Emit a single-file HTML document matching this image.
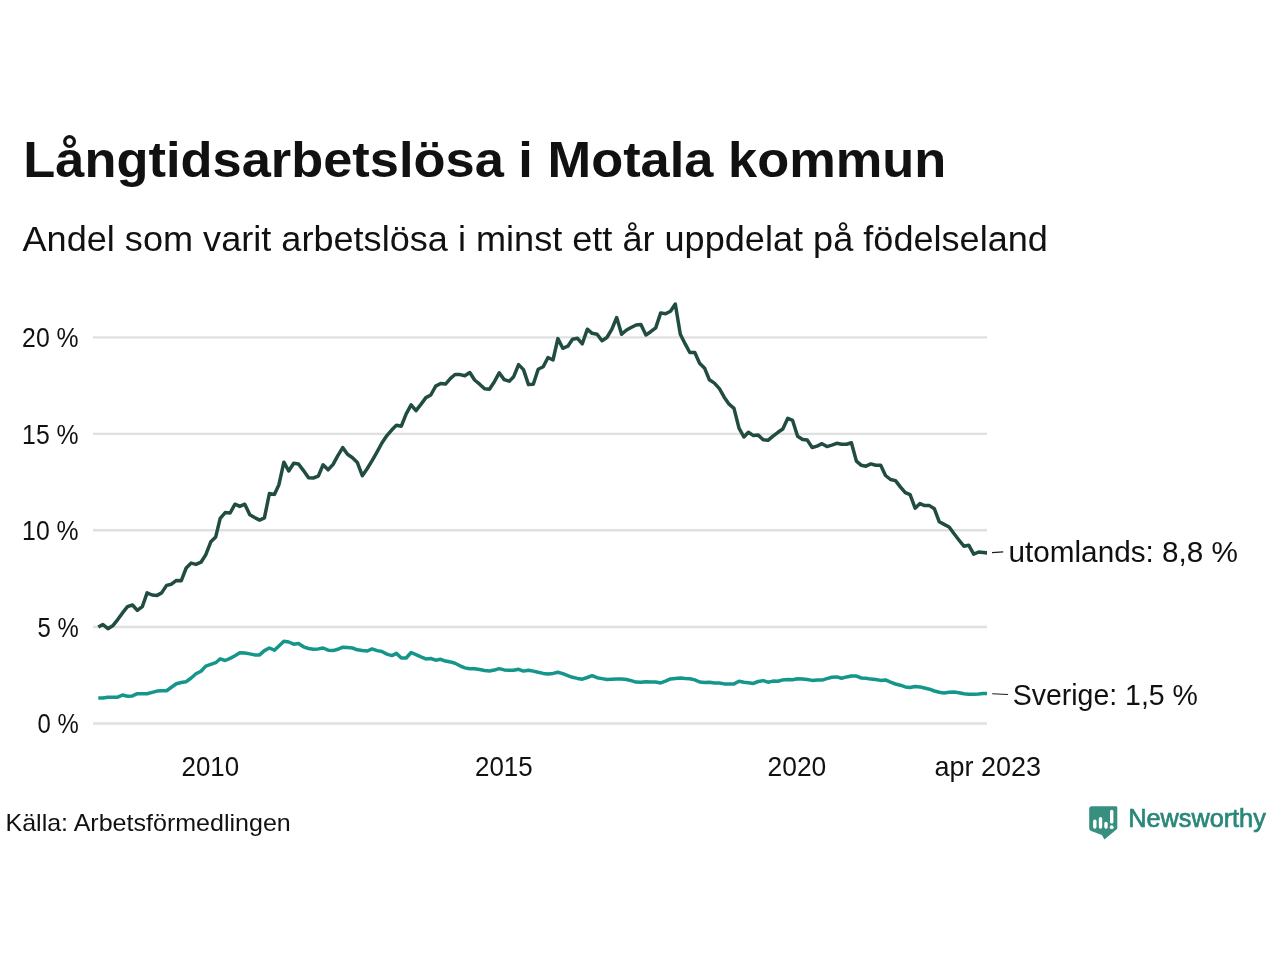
<!DOCTYPE html>
<html><head><meta charset="utf-8">
<style>
html,body{margin:0;padding:0;background:#fff;width:1280px;height:960px;overflow:hidden}
svg{position:absolute;left:0;top:0;display:block;will-change:transform}
text{font-family:"Liberation Sans",sans-serif}
</style></head><body>
<svg width="1280" height="960" viewBox="0 0 1280 960">
<rect width="1280" height="960" fill="#fff"/>
<g stroke="#e0e0e0" stroke-width="2.4">
<line x1="93" x2="987" y1="337.4" y2="337.4"/>
<line x1="93" x2="987" y1="433.9" y2="433.9"/>
<line x1="93" x2="987" y1="530.3" y2="530.3"/>
<line x1="93" x2="987" y1="627" y2="627"/>
<line x1="93" x2="987" y1="723.5" y2="723.5"/>
</g>
<text x="23.36" y="177.3" font-size="50" font-weight="bold" fill="#111" textLength="922.99" lengthAdjust="spacingAndGlyphs">Långtidsarbetslösa i Motala kommun</text>
<text x="22.50" y="250.6" font-size="35.3" font-weight="normal" fill="#111" textLength="1025.45" lengthAdjust="spacingAndGlyphs">Andel som varit arbetslösa i minst ett år uppdelat på födelseland</text>
<text x="22.10" y="347" font-size="27.5" font-weight="normal" fill="#111" textLength="56.50" lengthAdjust="spacingAndGlyphs">20 %</text>
<text x="22.10" y="443.5" font-size="27.5" font-weight="normal" fill="#111" textLength="56.50" lengthAdjust="spacingAndGlyphs">15 %</text>
<text x="22.10" y="539.9" font-size="27.5" font-weight="normal" fill="#111" textLength="56.50" lengthAdjust="spacingAndGlyphs">10 %</text>
<text x="37.50" y="636.5" font-size="27.5" font-weight="normal" fill="#111" textLength="41.20" lengthAdjust="spacingAndGlyphs">5 %</text>
<text x="37.50" y="733.1" font-size="27.5" font-weight="normal" fill="#111" textLength="41.20" lengthAdjust="spacingAndGlyphs">0 %</text>
<text x="181.56" y="776" font-size="27.5" font-weight="normal" fill="#111" textLength="57.54" lengthAdjust="spacingAndGlyphs">2010</text>
<text x="475.02" y="776" font-size="27.5" font-weight="normal" fill="#111" textLength="57.72" lengthAdjust="spacingAndGlyphs">2015</text>
<text x="767.52" y="776" font-size="27.5" font-weight="normal" fill="#111" textLength="58.76" lengthAdjust="spacingAndGlyphs">2020</text>
<text x="934.52" y="776" font-size="27.5" font-weight="normal" fill="#111" textLength="106.55" lengthAdjust="spacingAndGlyphs">apr 2023</text>
<text x="1008.46" y="562.3" font-size="28.6" font-weight="normal" fill="#111" textLength="229.58" lengthAdjust="spacingAndGlyphs">utomlands: 8,8 %</text>
<text x="1012.75" y="704.8" font-size="28.6" font-weight="normal" fill="#111" textLength="185.17" lengthAdjust="spacingAndGlyphs">Sverige: 1,5 %</text>
<text x="5.45" y="830.9" font-size="24" font-weight="normal" fill="#111" textLength="285.37" lengthAdjust="spacingAndGlyphs">Källa: Arbetsförmedlingen</text>
<text x="1128.24" y="827.3" font-size="25" font-weight="normal" fill="#2a877a" textLength="137.57" lengthAdjust="spacingAndGlyphs" stroke="#2a877a" stroke-width="0.7">Newsworthy</text>
<defs><clipPath id="c"><rect x="0" y="0" width="986.9" height="960"/></clipPath></defs>
<g clip-path="url(#c)">
<path d="M98.3,698.0 L102.9,698.0 L107.9,697.2 L112.7,697.2 L117.7,697.2 L122.5,695.0 L127.5,696.3 L132.5,695.9 L137.3,693.7 L142.3,693.7 L147.1,693.7 L152.1,692.4 L157.1,691.1 L161.6,690.7 L166.6,690.7 L171.4,687.3 L176.4,683.8 L181.2,682.5 L186.2,681.7 L191.2,678.0 L196.0,673.8 L201.0,671.2 L205.8,666.1 L210.8,664.4 L215.7,662.7 L220.2,658.8 L225.2,660.5 L230.1,658.4 L235.0,655.8 L239.8,652.8 L244.8,653.0 L249.8,653.9 L254.6,654.9 L259.6,654.9 L264.4,650.6 L269.4,648.0 L274.4,650.2 L278.9,645.9 L283.9,641.2 L288.7,642.0 L293.7,644.2 L298.5,643.5 L303.5,646.8 L308.5,648.5 L313.3,649.3 L318.3,648.9 L323.1,648.0 L328.1,650.2 L333.1,650.6 L337.7,649.3 L342.7,647.2 L347.5,647.6 L352.5,648.0 L357.3,649.8 L362.3,650.6 L367.3,651.0 L372.1,648.9 L377.1,650.6 L381.9,651.5 L386.9,654.1 L391.9,655.6 L396.4,653.4 L401.3,658.0 L406.2,658.0 L411.1,652.5 L416.0,654.6 L420.9,656.8 L425.9,658.9 L430.8,658.5 L435.7,660.2 L440.6,659.3 L445.5,661.1 L450.5,661.9 L455.0,663.2 L460.0,665.8 L464.8,667.9 L469.8,668.8 L474.6,668.8 L479.6,669.6 L484.6,670.5 L489.4,670.9 L494.4,670.1 L499.2,668.6 L504.2,669.9 L509.2,670.2 L513.7,670.2 L518.6,669.3 L523.5,671.1 L528.5,670.2 L533.3,671.1 L538.2,672.3 L543.2,673.4 L548.0,674.1 L553.0,673.4 L557.9,672.2 L562.8,673.6 L567.8,675.6 L572.5,677.3 L577.5,678.4 L582.3,679.2 L587.3,677.5 L592.1,675.7 L597.1,677.7 L602.0,678.6 L606.9,679.5 L611.9,679.2 L616.7,678.9 L621.6,678.9 L626.6,679.5 L631.1,680.6 L636.1,682.1 L640.9,682.3 L645.9,681.8 L650.7,682.1 L655.7,682.1 L660.7,682.9 L665.5,681.2 L670.5,678.9 L675.3,678.4 L680.3,678.0 L685.3,678.6 L689.8,678.7 L694.8,679.9 L699.6,682.0 L704.6,682.5 L709.4,682.2 L714.4,683.0 L719.4,683.0 L724.2,683.9 L729.1,683.9 L734.0,683.9 L739.0,681.3 L743.9,682.3 L748.4,682.8 L753.4,683.4 L758.2,681.5 L763.2,680.6 L768.0,682.2 L773.0,681.1 L778.0,681.3 L782.8,679.9 L787.8,679.6 L792.6,679.7 L797.6,678.7 L802.6,678.9 L807.2,679.5 L812.2,680.4 L817.0,679.9 L822.0,680.1 L826.9,678.6 L831.8,677.2 L836.8,676.9 L841.6,678.2 L846.6,676.9 L851.4,676.1 L856.4,676.1 L861.4,678.0 L865.9,678.2 L870.9,679.1 L875.7,679.5 L880.7,680.4 L885.5,679.9 L890.5,682.2 L895.5,684.0 L900.3,685.2 L905.3,686.9 L910.1,687.5 L915.1,686.5 L920.0,686.9 L924.5,688.0 L929.5,689.2 L934.4,691.0 L939.3,692.3 L944.1,692.9 L949.1,692.3 L954.1,692.1 L958.9,692.7 L963.9,693.8 L968.7,694.2 L973.7,694.2 L978.7,694.0 L983.2,693.6 L988.2,693.6" fill="none" stroke="#14968a" stroke-width="3.5" stroke-linejoin="round"/>
<path d="M98.3,627.0 L102.9,624.5 L107.9,628.7 L112.7,625.8 L117.7,619.6 L122.5,612.9 L127.5,606.7 L132.5,605.0 L137.3,610.4 L142.3,606.7 L147.1,592.9 L152.1,595.0 L157.1,595.4 L161.6,592.9 L166.6,585.4 L171.4,584.2 L176.4,580.4 L181.2,580.8 L186.2,568.0 L191.2,563.1 L196.0,564.4 L201.0,562.2 L205.8,554.7 L210.8,541.8 L215.7,536.9 L220.2,518.3 L225.2,512.6 L230.1,513.0 L235.0,504.2 L239.8,506.4 L244.8,504.2 L249.8,514.8 L254.6,517.5 L259.6,520.1 L264.4,517.9 L269.4,493.5 L274.4,494.4 L278.9,484.7 L283.9,462.2 L288.7,471.0 L293.7,463.2 L298.5,464.0 L303.5,470.6 L308.5,477.7 L313.3,478.0 L318.3,476.1 L323.1,464.8 L328.1,469.8 L333.1,464.4 L337.7,455.8 L342.7,447.6 L347.5,454.2 L352.5,457.7 L357.3,462.4 L362.3,475.7 L367.3,468.5 L372.1,460.7 L377.1,451.8 L381.9,443.0 L386.9,435.6 L391.9,429.8 L396.4,425.2 L401.3,426.2 L406.2,413.8 L411.1,404.9 L416.0,410.6 L420.9,404.4 L425.9,397.6 L430.8,395.0 L435.7,386.1 L440.6,383.5 L445.5,384.1 L450.5,378.3 L455.0,374.5 L460.0,374.6 L464.8,375.8 L469.8,372.5 L474.6,380.0 L479.6,384.2 L484.6,388.8 L489.4,389.2 L494.4,381.7 L499.2,372.9 L504.2,379.6 L509.2,381.2 L513.7,376.7 L518.6,364.6 L523.5,369.6 L528.5,384.6 L533.3,384.2 L538.2,369.2 L543.2,366.7 L548.0,357.5 L553.0,360.0 L557.9,338.6 L562.8,348.3 L567.8,346.2 L572.5,339.2 L577.5,338.3 L582.3,343.8 L587.3,329.2 L592.1,333.3 L597.1,334.2 L602.0,340.8 L606.9,337.5 L611.9,329.2 L616.7,317.5 L621.6,334.2 L626.6,330.0 L631.1,327.5 L636.1,325.0 L640.9,324.6 L645.9,335.0 L650.7,331.7 L655.7,327.9 L660.7,312.9 L665.5,313.8 L670.5,311.2 L675.3,304.0 L680.3,334.2 L685.3,344.2 L689.8,352.5 L694.8,352.5 L699.6,363.3 L704.6,368.2 L709.4,379.8 L714.4,383.1 L719.4,388.7 L724.2,397.2 L729.1,404.2 L734.0,408.4 L739.0,428.1 L743.9,437.0 L748.4,432.3 L753.4,435.6 L758.2,435.1 L763.2,439.8 L768.0,440.3 L773.0,436.1 L778.0,432.3 L782.8,429.0 L787.8,418.3 L792.6,420.4 L797.6,436.3 L802.6,439.5 L807.2,440.0 L812.2,447.5 L817.0,446.1 L822.0,443.7 L826.9,446.6 L831.8,445.1 L836.8,443.3 L841.6,444.2 L846.6,444.2 L851.4,442.8 L856.4,461.1 L861.4,465.3 L865.9,466.2 L870.9,463.9 L875.7,465.3 L880.7,465.3 L885.5,475.5 L890.5,479.5 L895.5,480.6 L900.3,486.9 L905.3,492.6 L910.1,494.7 L915.1,508.2 L920.0,503.5 L924.5,505.6 L929.5,505.6 L934.4,508.8 L939.3,521.8 L944.1,524.4 L949.1,527.0 L954.1,533.8 L958.9,540.0 L963.9,546.2 L968.7,545.2 L973.7,554.1 L978.7,552.0 L983.2,552.5 L988.2,553.0" fill="none" stroke="#204c42" stroke-width="3.5" stroke-linejoin="round"/>
</g>
<g stroke="#1a1a1a" stroke-width="1.1">
<line x1="992" x2="1003.2" y1="552.6" y2="551.9"/>
<line x1="992.2" x2="1008.1" y1="693.7" y2="694.5"/>
</g>
<path d="M1091.7,806.2 H1116 Q1117.3,806.2 1117.3,807.5 V828.7 L1104.4,839.5 L1101.9,834.9 L1092.5,831.6 Q1089.2,830.8 1089.2,828 V808.7 Q1089.2,806.2 1091.7,806.2 Z" fill="#37907f"/>
<g stroke="#fff" stroke-width="3.4" stroke-linecap="round">
<line x1="1094.8" x2="1094.8" y1="821.3" y2="827.1"/>
<line x1="1100.5" x2="1100.5" y1="818.8" y2="827.1"/>
<line x1="1106" x2="1106" y1="823.4" y2="827.1"/>
<line x1="1111.7" x2="1111.7" y1="811.5" y2="821.9"/>
</g>
<circle cx="1111.7" cy="827.2" r="1.9" fill="#fff"/>
</svg>
</body></html>
